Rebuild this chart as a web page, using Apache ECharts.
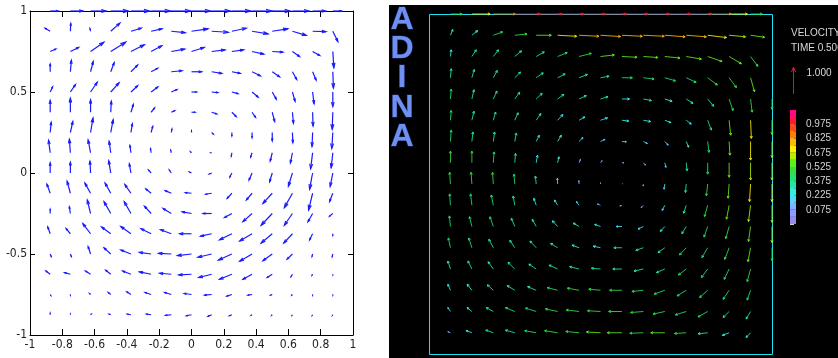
<!DOCTYPE html>
<html><head><meta charset="utf-8">
<script src="https://cdn.jsdelivr.net/npm/echarts@6/dist/echarts.min.js"></script>
<style>html,body{margin:0;padding:0;background:#fff}#c{width:838px;height:358px}</style>
</head><body><div id="c"></div>
<script>
// ---------------- Left panel (MATLAB quiver) ----------------
const quivX = [-0.875,-0.75,-0.625,-0.5,-0.375,-0.25,-0.125,0,0.125,0.25,0.375,0.5,0.625,0.75,0.875];
const quivY = [1,0.875,0.75,0.625,0.5,0.375,0.25,0.125,0,-0.125,-0.25,-0.375,-0.5,-0.625,-0.75,-0.875];
const quivU = [
 [0.4,0.62,0.76,0.86,0.92,0.96,0.96,0.94,0.92,0.93,0.99,0.88,0.82,0.64,0.44],
 [-0.25,0.02,-0.03,0.45,0.51,0.54,0.69,0.82,0.82,0.71,0.79,0.77,0.68,0.66,0.25],
 [0.28,0.41,0.66,0.74,0.66,0.53,0.66,0.63,0.66,0.58,0.58,0.53,0.35,0.35,0.05],
 [0,0.05,0.13,0.17,0.33,0.33,0.53,0.5,0.5,0.41,0.41,0.36,0.21,0.17,0.03],
 [0.12,0.25,0.33,0.41,0.33,0.33,0.28,0.25,0.3,0.3,0.3,0.2,0.13,0.07,0],
 [0,0,0,0.03,0.12,0.17,0.17,0.17,0.25,0.21,0.17,0.12,0.05,0.02,-0.03],
 [0.05,0.12,0.12,0.12,0.07,0.08,0.03,0,0.08,0,0,0,0.02,-0.03,-0.05],
 [-0.08,-0.05,-0.12,-0.08,-0.05,-0.03,-0.03,-0.05,-0.03,-0.03,-0.07,-0.1,-0.1,-0.1,-0.08],
 [0,0,-0.03,-0.1,-0.08,-0.13,-0.1,-0.1,-0.12,-0.1,-0.15,-0.13,-0.2,-0.15,-0.13],
 [-0.16,-0.16,-0.28,-0.28,-0.3,-0.26,-0.3,-0.3,-0.3,-0.23,-0.28,-0.46,-0.4,-0.2,-0.16],
 [0,-0.05,-0.16,-0.33,-0.33,-0.33,-0.41,-0.46,-0.43,-0.36,-0.45,-0.55,-0.4,-0.23,-0.16],
 [-0.12,-0.21,-0.38,-0.45,-0.5,-0.5,-0.53,-0.58,-0.55,-0.61,-0.61,-0.55,-0.43,-0.15,0],
 [0.05,0.05,-0.12,-0.33,-0.5,-0.58,-0.63,-0.69,-0.68,-0.66,-0.61,-0.46,-0.26,-0.03,-0.03],
 [-0.21,-0.28,-0.25,-0.25,-0.41,-0.58,-0.58,-0.63,-0.64,-0.61,-0.45,-0.25,-0.07,-0.03,0],
 [0.03,0,-0.05,-0.12,-0.2,-0.3,-0.33,-0.36,-0.35,-0.25,-0.2,-0.08,-0.03,0,0],
 [0,0,0.03,-0.08,-0.18,-0.23,-0.28,-0.25,-0.18,-0.12,-0.05,-0.03,-0.02,-0.02,-0.02]
];
const quivV = [
 [0,0,0,0,0,0,0,0,0,0,0,0,0,0,0],
 [0.15,0.38,0.13,0.4,0.15,0.12,-0.07,0.12,-0.05,0.15,-0.13,0.12,-0.2,-0.02,-0.51],
 [0.12,0.2,0.46,0.46,0.33,0.28,0.12,0.2,0.08,0.08,-0.13,-0.03,-0.25,-0.2,-0.8],
 [0.38,0.56,0.5,0.45,0.33,0.17,0.05,0,-0.08,-0.08,-0.2,-0.25,-0.38,-0.41,-0.8],
 [0.25,0.36,0.48,0.45,0.31,0.25,0.12,0,-0.03,-0.08,-0.25,-0.35,-0.46,-0.58,-0.71],
 [0.58,0.69,0.61,0.54,0.38,0.21,0.08,0,-0.08,-0.21,-0.25,-0.46,-0.54,-0.68,-0.84],
 [0.5,0.54,0.71,0.63,0.43,0.3,0.17,0.08,-0.08,-0.17,-0.25,-0.41,-0.5,-0.69,-0.78],
 [0.61,0.66,0.63,0.56,0.36,0.2,0.12,0.05,0,-0.17,-0.21,-0.41,-0.5,-0.79,-0.74],
 [0.5,0.53,0.58,0.6,0.45,0.15,0.15,0.05,-0.05,-0.2,-0.35,-0.43,-0.65,-0.8,-0.66],
 [0.45,0.59,0.5,0.5,0.43,0.21,0.13,0.03,-0.05,-0.25,-0.33,-0.5,-0.71,-0.83,-0.41],
 [0.2,0.33,0.66,0.58,0.58,0.36,0.25,0.08,0,-0.2,-0.4,-0.58,-0.58,-0.41,-0.13],
 [0.33,0.25,0.5,0.33,0.36,0.25,0.2,0,-0.12,-0.3,-0.36,-0.46,-0.46,-0.3,-0.08],
 [-0.12,-0.12,0.36,0.3,0.2,0.08,0.03,-0.08,-0.16,-0.3,-0.36,-0.33,-0.25,-0.12,-0.13],
 [0.16,0.08,0.16,0.2,0.16,0.12,0.05,-0.03,-0.16,-0.25,-0.25,-0.16,-0.12,-0.05,-0.03],
 [-0.05,-0.03,0.05,0.1,0.13,0.1,0.1,0.05,-0.03,-0.08,-0.03,-0.03,-0.03,-0.03,-0.03],
 [0.08,0.03,0.03,0.03,0.03,0.03,-0.03,-0.05,-0.08,-0.05,-0.03,-0.03,-0.03,-0.03,-0.03]
];
const xTickLabels = ['-1','-0.8','-0.6','-0.4','-0.2','0','0.2','0.4','0.6','0.8','1'];
const yTickLabels = ['-1','-0.5','0','0.5','1'];

// ---------------- Right panel (ADINA velocity) ----------------
const adinaX = [0.0625,0.125,0.1875,0.25,0.3125,0.375,0.4375,0.5,0.5625,0.625,0.6875,0.75,0.8125,0.875,0.9375];
const adinaY = [0.9375,0.875,0.8125,0.75,0.6875,0.625,0.5625,0.5,0.4375,0.375,0.3125,0.25,0.1875,0.125,0.0625];
const adinaU = [
 [0.09,0.22,0.36,0.47,0.58,0.73,0.76,0.77,0.78,0.8,0.78,0.77,0.72,0.63,0.54],
 [0.03,0.17,0.2,0.26,0.31,0.37,0.47,0.53,0.58,0.56,0.58,0.58,0.55,0.47,0.28],
 [0.03,0.09,0.15,0.22,0.27,0.29,0.32,0.33,0.4,0.41,0.41,0.38,0.37,0.28,0.15],
 [0.03,0.08,0.14,0.19,0.23,0.24,0.28,0.29,0.29,0.31,0.28,0.26,0.23,0.15,0.06],
 [0.03,0.08,0.09,0.13,0.18,0.2,0.22,0.27,0.26,0.28,0.23,0.19,0.14,0.06,0.03],
 [0.03,0.04,0.05,0.06,0.12,0.14,0.15,0.17,0.17,0.15,0.13,0.09,0.05,0.03,0],
 [0,0,0.03,0.03,0.05,0.05,0.05,0.06,0.08,0.08,0.04,0.03,0,0,0],
 [-0.03,-0.03,-0.03,-0.03,-0.03,-0.01,-0.01,0,0.02,-0.01,-0.03,-0.03,-0.05,-0.04,-0.04],
 [-0.03,-0.05,-0.08,-0.06,-0.09,-0.12,-0.1,-0.12,-0.08,-0.08,-0.1,-0.1,-0.12,-0.1,-0.08],
 [-0.04,-0.09,-0.13,-0.13,-0.15,-0.2,-0.22,-0.22,-0.22,-0.2,-0.17,-0.17,-0.14,-0.13,-0.08],
 [-0.08,-0.12,-0.17,-0.19,-0.24,-0.27,-0.27,-0.28,-0.31,-0.29,-0.26,-0.26,-0.22,-0.17,-0.1],
 [-0.1,-0.15,-0.2,-0.26,-0.28,-0.33,-0.36,-0.35,-0.35,-0.36,-0.32,-0.3,-0.24,-0.19,-0.13],
 [-0.1,-0.18,-0.23,-0.29,-0.33,-0.4,-0.45,-0.45,-0.47,-0.44,-0.41,-0.35,-0.31,-0.23,-0.13],
 [-0.1,-0.18,-0.27,-0.36,-0.41,-0.47,-0.49,-0.5,-0.51,-0.49,-0.45,-0.42,-0.37,-0.23,-0.17],
 [-0.1,-0.22,-0.29,-0.36,-0.44,-0.5,-0.51,-0.54,-0.56,-0.52,-0.54,-0.45,-0.37,-0.26,-0.17]
];
const adinaV = [
 [0.22,0.18,0.13,0.05,0,-0.04,-0.04,-0.05,-0.04,-0.04,-0.06,-0.06,-0.09,-0.06,-0.08],
 [0.26,0.26,0.26,0.22,0.18,0.15,0.12,0.06,-0.03,-0.04,-0.06,-0.1,-0.19,-0.28,-0.38],
 [0.35,0.32,0.28,0.22,0.19,0.15,0.13,0.06,0,-0.05,-0.12,-0.18,-0.28,-0.38,-0.54],
 [0.38,0.36,0.31,0.26,0.22,0.18,0.13,0.09,0,-0.06,-0.09,-0.17,-0.28,-0.45,-0.51],
 [0.38,0.35,0.32,0.29,0.26,0.22,0.13,0.09,-0.03,-0.05,-0.09,-0.15,-0.38,-0.58,-0.7],
 [0.44,0.37,0.37,0.33,0.24,0.24,0.15,0.08,-0.01,-0.08,-0.14,-0.22,-0.42,-0.53,-0.72],
 [0.45,0.45,0.42,0.36,0.29,0.23,0.13,0.08,0,-0.09,-0.18,-0.31,-0.44,-0.56,-0.67],
 [0.45,0.45,0.45,0.38,0.31,0.22,0.13,0.05,0.01,-0.08,-0.2,-0.33,-0.46,-0.55,-0.68],
 [0.44,0.44,0.4,0.36,0.27,0.2,0.14,0.05,-0.03,-0.09,-0.2,-0.31,-0.44,-0.54,-0.63],
 [0.41,0.38,0.38,0.32,0.28,0.22,0.13,0.08,0,-0.1,-0.19,-0.28,-0.41,-0.47,-0.58],
 [0.38,0.38,0.33,0.29,0.26,0.17,0.1,0.06,0,-0.1,-0.19,-0.28,-0.38,-0.45,-0.54],
 [0.31,0.31,0.28,0.26,0.19,0.15,0.09,0.03,0,-0.08,-0.14,-0.23,-0.33,-0.4,-0.49],
 [0.23,0.23,0.21,0.18,0.14,0.1,0.08,0.04,0,-0.05,-0.15,-0.22,-0.28,-0.35,-0.38],
 [0.15,0.15,0.15,0.15,0.13,0.1,0.06,0.03,0,-0.04,-0.1,-0.13,-0.21,-0.23,-0.29],
 [0.04,0.08,0.1,0.1,0.08,0.08,0.05,0.03,0,-0.02,0,-0.03,-0.04,-0.1,-0.18]
];
// moving lid (top wall) nodes
const lidX = [0.0625,0.125,0.1875,0.25,0.3125,0.375,0.4375,0.5,0.5625,0.625,0.6875,0.75,0.8125,0.875,0.9375];
const lidU = [0.45,0.7,0.85,0.98,0.99,1.0,1.0,1.0,1.0,1.0,0.99,0.98,0.9,0.7,0.45];
// right wall nodes
const wallY = [0.75,0.6875,0.625,0.5625,0.5,0.4375,0.375,0.3125];
const wallV = [-0.4,-0.55,-0.62,-0.66,-0.68,-0.66,-0.62,-0.5];

// colour scale
const bandEdges = [-0.075,0,0.075,0.15,0.225,0.3,0.375,0.45,0.525,0.6,0.675,0.75,0.825,0.9,0.975,1.05,1.125];
const bandColors = ['#9a8ae8','#8c9cff','#78b4ff','#50d8f8','#30f0e0','#20e8a8','#20e070','#30e040','#60ec18','#b0f000','#fff000','#ffb800','#ff8000','#ff4818','#ff1830','#ff0880'];
const colorbarLabels = ['0.975','0.825','0.675','0.525','0.375','0.225','0.075'];

// ---------------- build ----------------
const S_L = 0.125;   // quiver arrow scale (data units per unit vector)
const S_A = 0.076;   // ADINA arrow scale

const leftData = [];
quivY.forEach((y,j)=>quivX.forEach((x,i)=>leftData.push([x,y,quivU[j][i],quivV[j][i]])));
const mag = (u,v)=>Math.sqrt(u*u+v*v);
const adinaData = [];
adinaY.forEach((y,j)=>adinaX.forEach((x,i)=>adinaData.push([x,y,adinaU[j][i],adinaV[j][i],mag(adinaU[j][i],adinaV[j][i])])));
const lidData = lidX.map((x,i)=>[x,1,lidU[i],0,mag(lidU[i],0)]);
const wallData = wallY.map((y,i)=>[1,y,0,wallV[i],mag(0,wallV[i])]);

function matlabArrow(params, api){
  const x=api.value(0), y=api.value(1), u=api.value(2), v=api.value(3);
  const p0=api.coord([x,y]), p1=api.coord([x+u*S_L, y+v*S_L]);
  const dx=p1[0]-p0[0], dy=p1[1]-p0[1];
  const a=0.3,b=0.3;
  const b1=[p1[0]-a*(dx+b*dy), p1[1]-a*(dy-b*dx)];
  const b2=[p1[0]-a*(dx-b*dy), p1[1]-a*(dy+b*dx)];
  const st={stroke:'#1a1aff', lineWidth:1.2, fill:null};
  return {type:'group', children:[
    {type:'line', shape:{x1:p0[0],y1:p0[1],x2:p1[0],y2:p1[1]}, style:st},
    {type:'polyline', shape:{points:[b1,p1,b2]}, style:st}
  ]};
}
function adinaArrow(params, api){
  const x=api.value(0), y=api.value(1), u=api.value(2), v=api.value(3);
  const p0=api.coord([x,y]), p1=api.coord([x+u*S_A, y+v*S_A]);
  const dx=p1[0]-p0[0], dy=p1[1]-p0[1];
  const L=Math.sqrt(dx*dx+dy*dy)||1;
  const ux=dx/L, uy=dy/L, h=Math.min(2.2, L*0.3), w=h*0.5;
  const b1=[p1[0]-h*ux-w*uy, p1[1]-h*uy+w*ux];
  const b2=[p1[0]-h*ux+w*uy, p1[1]-h*uy-w*ux];
  const c=api.visual('color');
  return {type:'group', children:[
    {type:'line', shape:{x1:p0[0],y1:p0[1],x2:p1[0],y2:p1[1]}, style:{stroke:c,lineWidth:1,opacity:0.85}},
    {type:'polyline', shape:{points:[b1,p1,b2]}, style:{stroke:c,lineWidth:1,fill:null}}
  ]};
}
function colorBand(params, api){
  const k=api.value(0);
  const p0=api.coord([0,bandEdges[k]]), p1=api.coord([1,bandEdges[k+1]]);
  return {type:'rect', shape:{x:p0[0], y:p1[1], width:p1[0]-p0[0], height:p0[1]-p1[1]}, style:{fill:bandColors[k]}};
}

const lblFont = "'Liberation Sans Narrow','DejaVu Sans Condensed','Liberation Sans',sans-serif";
const fmt = v => (Math.round(v*10)/10).toString();
const boxAxis = {onZero:false, lineStyle:{color:'#000',width:1}};

const chart = echarts.init(document.getElementById('c'), null, {renderer:'canvas'});
const option = {
  animation:false,
  backgroundColor:'#fff',
  grid:[
    {left:30, top:11, width:323, height:324, show:false},
    {left:429, top:14, width:343, height:340, show:false},
    {left:790, top:110, width:6, height:114, show:false}
  ],
  xAxis:[
    {gridIndex:0, type:'value', min:-1, max:1, interval:0.2, position:'bottom',
     axisLine:boxAxis, axisTick:{inside:true,length:6,lineStyle:{color:'#000'}},
     splitLine:{show:false},
     axisLabel:{color:'#222', fontSize:12, fontFamily:lblFont, margin:4,
       formatter:v=>{const s=fmt(v); return xTickLabels.includes(s)?s:'';}}},
    {gridIndex:0, type:'value', min:-1, max:1, interval:0.2, position:'top',
     axisLine:boxAxis, axisTick:{inside:true,length:6,lineStyle:{color:'#000'}},
     splitLine:{show:false}, axisLabel:{show:false}},
    {gridIndex:1, type:'value', min:0, max:1, show:false},
    {gridIndex:2, type:'value', min:0, max:1, show:false}
  ],
  yAxis:[
    {gridIndex:0, type:'value', min:-1, max:1, interval:0.5, position:'left',
     axisLine:Object.assign({show:true},boxAxis), axisTick:{show:true,inside:true,length:5,lineStyle:{color:'#000'}},
     splitLine:{show:false},
     axisLabel:{color:'#222', fontSize:12, fontFamily:lblFont, margin:3,
       formatter:v=>{const s=fmt(v); return yTickLabels.includes(s)?s:'';}}},
    {gridIndex:0, type:'value', min:-1, max:1, interval:0.5, position:'right',
     axisLine:Object.assign({show:true},boxAxis), axisTick:{show:true,inside:true,length:5,lineStyle:{color:'#000'}},
     splitLine:{show:false}, axisLabel:{show:false}},
    {gridIndex:1, type:'value', min:0, max:1, show:false},
    {gridIndex:2, type:'value', min:-0.075, max:1.125, interval:0.075, position:'right',
     axisLine:{show:false}, splitLine:{show:false},
     axisTick:{show:true, inside:false, length:4, lineStyle:{color:'#cfcfcf'}},
     axisLabel:{color:'#d4d4d4', fontSize:10, fontFamily:"'Liberation Sans',sans-serif", margin:10,
       formatter:v=>{const s=v.toFixed(3); return colorbarLabels.includes(s)?s:'';}}}
  ],
  visualMap:[{type:'piecewise', show:false, seriesIndex:[1,2,3], dimension:4,
    pieces: bandColors.map((c,k)=>({gte:bandEdges[k], lt:bandEdges[k+1], color:c}))}],
  series:[
    {type:'custom', xAxisIndex:0, yAxisIndex:0, data:leftData, renderItem:matlabArrow, clip:false, silent:true},
    {type:'custom', xAxisIndex:2, yAxisIndex:2, data:adinaData, renderItem:adinaArrow, clip:false, silent:true, z:3},
    {type:'custom', xAxisIndex:2, yAxisIndex:2, data:lidData, renderItem:adinaArrow, clip:false, silent:true, z:4},
    {type:'custom', xAxisIndex:2, yAxisIndex:2, data:wallData, renderItem:adinaArrow, clip:false, silent:true, z:4},
    {type:'custom', xAxisIndex:3, yAxisIndex:3, data:bandColors.map((c,k)=>[k]), renderItem:colorBand, silent:true}
  ],
  graphic:[
    {type:'rect', z:-10, silent:true, shape:{x:389,y:5,width:449,height:353}, style:{fill:'#000'}},
    {type:'rect', z:1, silent:true, shape:{x:429.5,y:14.5,width:343,height:340}, style:{fill:null, stroke:'#1ee0f0', lineWidth:1}},
    ...['A','D','I','N','A'].map((ch,k)=>({type:'text', z:10, silent:true, x:402, y:[20,49.5,78,108.5,137.5][k],
      style:{text:ch, fill:'#7090f0', stroke:'#1c2c78', lineWidth:1, font:"bold 32px 'Liberation Sans',sans-serif",
        textAlign:'center', textVerticalAlign:'middle'}})),
    {type:'text', z:10, silent:true, x:791, y:33.7, style:{text:'VELOCITY', fill:'#d8d8d8', font:"10px 'Liberation Sans',sans-serif", textVerticalAlign:'middle'}},
    {type:'text', z:10, silent:true, x:791, y:48.3, style:{text:'TIME 0.500', fill:'#d8d8d8', font:"10px 'Liberation Sans',sans-serif", textVerticalAlign:'middle'}},
    {type:'text', z:10, silent:true, x:806.5, y:73.7, style:{text:'1.000', fill:'#d8d8d8', font:"10px 'Liberation Sans',sans-serif", textVerticalAlign:'middle'}},
    {type:'line', z:10, silent:true, shape:{x1:793.5,y1:94,x2:793.5,y2:67}, style:{stroke:'#e01038', lineWidth:1}},
    {type:'polyline', z:10, silent:true, shape:{points:[[791.5,72],[793.5,67],[795.5,72]]}, style:{stroke:'#e01038', lineWidth:1, fill:null}}
  ]
};
chart.setOption(option);
</script></body></html>
